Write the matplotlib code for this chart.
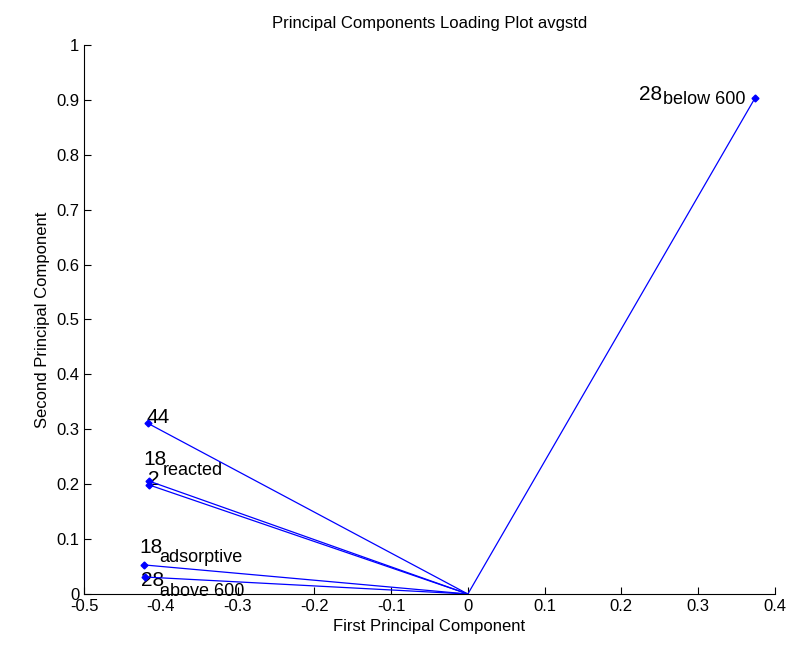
import matplotlib
matplotlib.use("Agg")
import matplotlib.pyplot as plt

plt.rcParams['font.family'] = ['Liberation Sans', 'DejaVu Sans']

# loadings
labels = ['28', '44', '18', '2', '18', '28']
subs = ['below 600', '', 'reacted', '', 'adsorptive', 'above 600']
pc1 = [0.374, -0.417, -0.416, -0.416, -0.422, -0.421]
pc2 = [0.903, 0.311, 0.206, 0.199, 0.053, 0.031]

fig = plt.figure(figsize=(7.95, 6.56), dpi=100)
ax = fig.add_axes([0.1057, 0.0945, 0.869, 0.837])

for x, y in zip(pc1, pc2):
    ax.plot([0, x], [0, y], '-', color='#0000ff', lw=0.9)
    ax.plot(x, y, 'D', color='#0000ff', ms=3.5)

# label placement in pixels: main text (dx, dy), subscript (dx, dy)
main_off = [(-116, -2), (-1, 0), (-5, 16), (-1, 0), (-5, 12), (-4, -9)]
sub_off = [(-92, -6), (0, 0), (14, 6), (0, 0), (15, 3), (15, -19)]
for t, s, x, y, mo, so in zip(labels, subs, pc1, pc2, main_off, sub_off):
    ax.annotate(t, (x, y), xytext=mo, textcoords='offset pixels',
                ha='left', va='baseline', fontsize=15, color='black', zorder=1)
    if s:
        ax.annotate(s, (x, y), xytext=so, textcoords='offset pixels',
                    ha='left', va='baseline', fontsize=13, color='black', zorder=1)

ax.set_xlim(-0.5, 0.4)
ax.set_ylim(0, 1)
ax.set_xticks([-0.5, -0.4, -0.3, -0.2, -0.1, 0, 0.1, 0.2, 0.3, 0.4])
ax.set_xticklabels(['-0.5', '-0.4', '-0.3', '-0.2', '-0.1', '0', '0.1', '0.2', '0.3', '0.4'])
ax.set_yticks([0, 0.1, 0.2, 0.3, 0.4, 0.5, 0.6, 0.7, 0.8, 0.9, 1])
ax.set_yticklabels(['0', '0.1', '0.2', '0.3', '0.4', '0.5', '0.6', '0.7', '0.8', '0.9', '1'])
ax.tick_params(direction='in', labelsize=12, length=5)
ax.spines['top'].set_visible(False)
ax.spines['right'].set_visible(False)

ax.set_title('Principal Components Loading Plot avgstd', fontsize=12, pad=12)
ax.set_xlabel('First Principal Component', fontsize=12)
ax.set_ylabel('Second Principal Component', fontsize=12)

fig.savefig('out.png', dpi=100)
